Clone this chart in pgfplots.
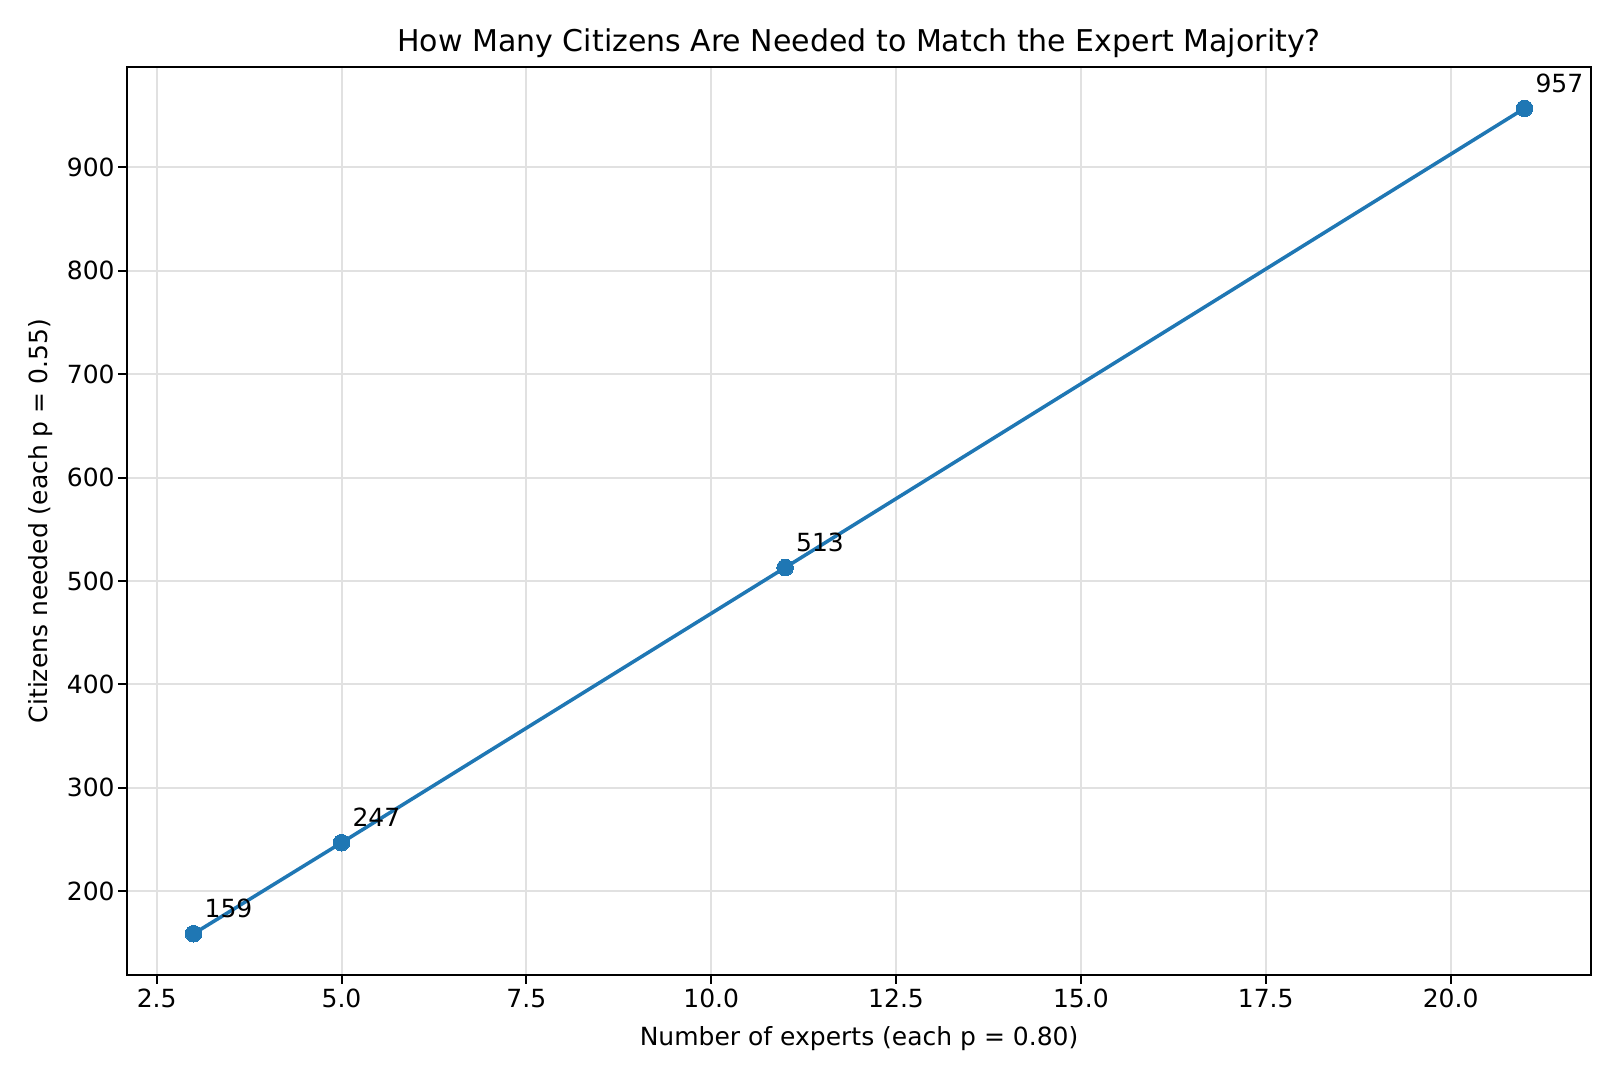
\documentclass[border=0pt]{standalone}
\usepackage{fontspec}
\setmainfont{DejaVu Sans}
\usepackage{pgfplots}
\pgfplotsset{compat=1.18}

\definecolor{mplblue}{HTML}{1F77B4}
\definecolor{gridgray}{RGB}{225,225,225}

\newcommand{\lblfont}{\fontsize{12}{14.4}\selectfont}

\begin{document}
\begin{tikzpicture}
% page = 9in x 6in figure, axis box placed as in the reference
\useasboundingbox (-61pt,-50.4pt) rectangle (716.6pt,468pt);
\begin{axis}[
  at={(0,0)}, anchor=south west,
  scale only axis,
  width=702.7pt, height=435.8pt,
  xmin=2.1, xmax=21.9,
  ymin=119.1, ymax=996.9,
  xtick={2.5,5,7.5,10,12.5,15,17.5,20},
  ytick={200,300,400,500,600,700,800,900},
  /pgf/number format/assume math mode=true,
  tick label style={font=\lblfont},
  x tick label style={/pgf/number format/fixed,
    /pgf/number format/fixed zerofill,
    /pgf/number format/precision=1},
  xticklabel style={anchor=north, inner sep=0pt, yshift=-2.4pt},
  yticklabel style={anchor=east, inner sep=0pt, xshift=-1.6pt},
  tick align=outside,
  xtick pos=left, ytick pos=left,
  major tick length=4.2pt,
  every tick/.style={black, line width=0.96pt},
  axis line style={line width=0.96pt},
  grid=major,
  major grid style={gridgray, line width=0.96pt},
  title={How Many Citizens Are Needed to Match the Expert Majority?},
  every axis title shift=0pt,
  title style={at={([yshift=7.35pt]axis description cs:0.5,1)},
    anchor=base, inner sep=0pt, font=\fontsize{14.4}{17}\selectfont},
  xlabel={Number of experts (each p = 0.80)},
  xlabel style={at={([yshift=-34pt]axis description cs:0.5,0)},
    anchor=base, inner sep=0pt, font=\lblfont},
  ylabel={Citizens needed (each p = 0.55)},
  ylabel style={at={([xshift=-38.1pt]axis description cs:0,0.5)},
    anchor=base, inner sep=0pt, font=\lblfont},
]
\addplot [
  mplblue, line width=1.7pt,
  mark=*, mark size=4pt,
  mark options={fill=mplblue, draw=mplblue, line width=0pt},
  nodes near coords,
  point meta=y,
  nodes near coords style={anchor=base west, inner sep=0pt,
    xshift=5.3pt, yshift=7.8pt, text=black, font=\lblfont,
    /pgf/number format/fixed, /pgf/number format/precision=0},
] coordinates {
  (3,159)
  (5,247)
  (11,513)
  (21,957)
};
\end{axis}
\end{tikzpicture}
\end{document}
